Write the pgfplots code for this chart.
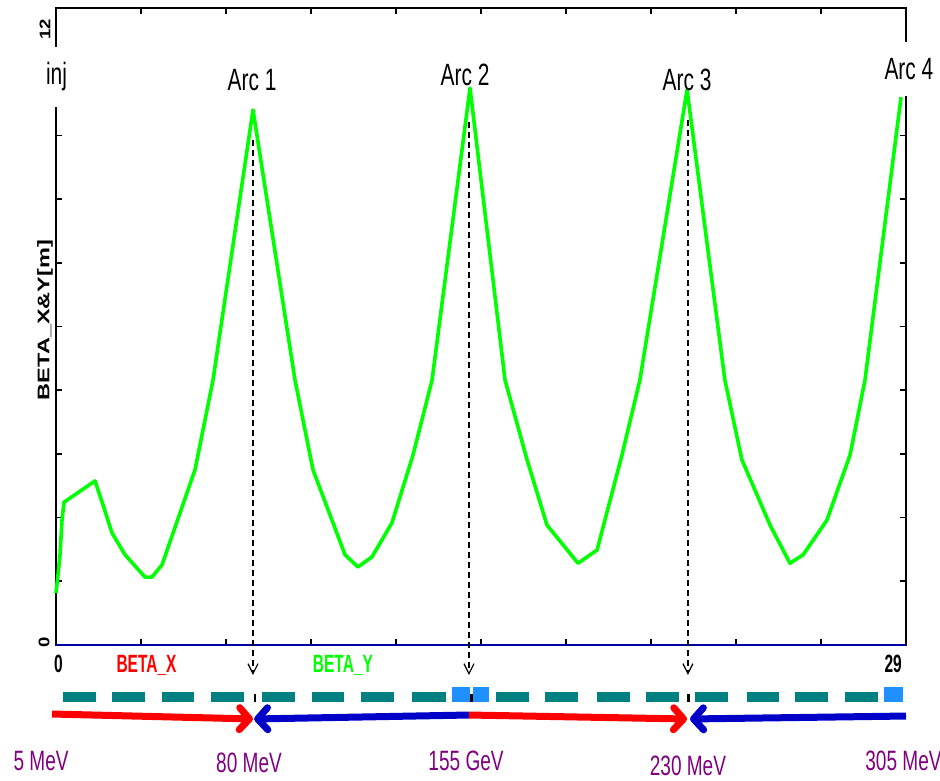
\documentclass[border=0pt]{standalone}
\usepackage{pgfplots}
\pgfplotsset{compat=1.18}
\usetikzlibrary{arrows.meta}
\usepackage{fontspec}
\setmainfont{Liberation Sans}
\newfontfamily\narrowfont[FakeStretch=0.68]{Liberation Sans}
\newfontfamily\boldnarrow[FakeStretch=0.62]{Liberation Sans}
\newfontfamily\widefont[FakeStretch=1.4]{Liberation Sans}
\newfontfamily\tickfont[FakeStretch=1.2]{Liberation Sans}
\definecolor{curvegreen}{RGB}{0,255,0}
\definecolor{elemteal}{RGB}{0,128,128}
\definecolor{elemblue}{RGB}{30,144,255}
\definecolor{arrowblue}{RGB}{0,0,200}
\definecolor{labpurple}{RGB}{128,0,128}
\definecolor{axisblue}{RGB}{0,0,160}
\begin{document}
\begin{tikzpicture}
\begin{axis}[
  scale only axis, width=425pt, height=318.5pt,
  xmin=0, xmax=29, ymin=0, ymax=12,
  xtick={0,2.9,5.8,8.7,11.6,14.5,17.4,20.3,23.2,26.1,29},
  ytick={0,1.2,2.4,3.6,4.8,6,7.2,8.4,9.6,10.8,12},
  xticklabel=\empty, yticklabel=\empty,
  tick align=inside, major tick length=3pt,
  tick style={black, line width=0.8pt},
  axis line style={line width=1pt},
  clip=false, unbounded coords=jump,
]
% beta curve
\addplot[curvegreen, line width=1.8pt, line join=round] coordinates {
 (0,0.98) (0.068,1.32) (0.136,1.70) (0.205,2.35) (0.273,2.69)
 (1.331,3.09) (1.604,2.64) (1.911,2.11) (2.354,1.70) (3.036,1.28)
 (3.275,1.28) (3.616,1.51) (4.742,3.30) (5.356,4.99) (6.721,10.08)
 (8.154,4.99) (8.768,3.30) (9.860,1.70) (10.30,1.47) (10.78,1.66)
 (11.46,2.30) (12.18,3.58) (12.83,4.99) (14.125,10.49)
 (15.32,4.99) (16.07,3.49) (16.75,2.26) (17.81,1.54) (18.46,1.79)
 (19.31,3.58) (19.92,4.99) (21.53,10.46)
 (22.82,4.99) (23.40,3.49) (24.36,2.26) (25.04,1.54) (25.49,1.70)
 (26.30,2.35) (27.09,3.58) (27.60,4.99) (28.83,10.32)
};
% beta_x line at zero
\addplot[axisblue, line width=1pt] coordinates {(0,0) (29,0)};
% dashed markers
\addplot[black, line width=0.6pt, dash pattern=on 3pt off 2pt, -{Straight Barb[length=5pt,width=5pt]}] coordinates {(6.72,9.51) (6.72,-0.565)};
\addplot[black, line width=0.6pt, dash pattern=on 3pt off 2pt, -{Straight Barb[length=5pt,width=5pt]}] coordinates {(14.09,9.85) (14.09,-0.565)};
\addplot[black, line width=0.6pt, dash pattern=on 3pt off 2pt, -{Straight Barb[length=5pt,width=5pt]}] coordinates {(21.56,9.89) (21.56,-0.565)};
% element bar
\addplot[elemteal, line width=5pt] coordinates {
 (0.239,-0.98) (1.365,-0.98) (1.365,nan)
 (1.911,-0.98) (3.036,-0.98) (3.036,nan)
 (3.616,-0.98) (4.708,-0.98) (4.708,nan)
 (5.288,-0.98) (6.414,-0.98) (6.414,nan)
 (7.028,-0.98) (8.154,-0.98) (8.154,nan)
 (8.734,-0.98) (9.826,-0.98) (9.826,nan)
 (10.406,-0.98) (11.532,-0.98) (11.532,nan)
 (12.146,-0.98) (13.306,-0.98) (13.306,nan)
 (15.012,-0.98) (16.138,-0.98) (16.138,nan)
 (16.684,-0.98) (17.809,-0.98) (17.809,nan)
 (18.458,-0.98) (19.584,-0.98) (19.584,nan)
 (20.129,-0.98) (21.255,-0.98) (21.255,nan)
 (21.801,-0.98) (22.927,-0.98) (22.927,nan)
 (23.575,-0.98) (24.667,-0.98) (24.667,nan)
 (25.213,-0.98) (26.339,-0.98) (26.339,nan)
 (26.919,-0.98) (28.045,-0.98)
};
\addplot[elemblue, line width=7.5pt] coordinates {
 (13.51,-0.932) (14.12,-0.932) (14.12,nan)
 (14.23,-0.932) (14.77,-0.932) (14.77,nan)
 (28.25,-0.932) (28.90,-0.932)
};
\addplot[black, line width=4pt] coordinates {
 (6.74,-1.0) (6.84,-1.0) (6.84,nan)
 (14.12,-1.0) (14.21,-1.0) (14.21,nan)
 (21.53,-1.0) (21.63,-1.0)
};
% energy arrows
\addplot[arrowblue, line width=3.5pt, {Straight Barb[length=5pt,width=11pt,round]}-] coordinates {(6.76,-1.394) (14.09,-1.319)};
\addplot[red, line width=3.5pt, -{Straight Barb[length=5pt,width=11pt,round]}] coordinates {(-0.136,-1.30) (6.72,-1.394)};
\addplot[red, line width=3.5pt, -{Straight Barb[length=5pt,width=11pt,round]}] coordinates {(14.09,-1.319) (21.53,-1.394)};
\addplot[arrowblue, line width=3.5pt, {Straight Barb[length=5pt,width=11pt,round]}-] coordinates {(21.63,-1.394) (29.0,-1.338)};
% labels
\node[font=\narrowfont\fontsize{15.4}{18}\selectfont] at (axis cs:6.687,10.64) {Arc 1};
\node[font=\narrowfont\fontsize{15.4}{18}\selectfont] at (axis cs:13.954,10.74) {Arc 2};
\node[font=\narrowfont\fontsize{15.4}{18}\selectfont] at (axis cs:21.53,10.64) {Arc 3};
\node[font=\narrowfont\fontsize{15.4}{18}\selectfont, fill=white, inner ysep=8pt] at (axis cs:29.10,10.85) {Arc 4};
\node[font=\narrowfont\fontsize{15.4}{18}\selectfont, fill=white, inner ysep=8pt] at (axis cs:0.017,10.70) {inj};
% axis numbers
\node[font=\boldnarrow\bfseries\fontsize{12.5}{14}\selectfont, anchor=base, inner sep=0pt] at (axis cs:0.085,-0.52) {0};
\node[font=\boldnarrow\bfseries\fontsize{12.5}{14}\selectfont, anchor=base, inner sep=0pt] at (axis cs:28.56,-0.52) {29};
\node[font=\boldnarrow\bfseries\fontsize{12.5}{14}\selectfont, anchor=base, inner sep=0pt, text=red] at (axis cs:3.088,-0.52) {BETA\_X};
\node[font=\boldnarrow\bfseries\fontsize{12.5}{14}\selectfont, anchor=base, inner sep=0pt, text=curvegreen] at (axis cs:9.79,-0.52) {BETA\_Y};
\node[font=\tickfont\bfseries\fontsize{7.7}{9}\selectfont, rotate=90, inner sep=0pt] at (axis cs:-0.375,11.60) {12};
\node[font=\tickfont\bfseries\fontsize{7.7}{9}\selectfont, rotate=90, inner sep=0pt] at (axis cs:-0.41,0.057) {0};
\node[font=\widefont\bfseries\fontsize{8.4}{10}\selectfont, rotate=90, inner sep=0pt] at (axis cs:-0.375,6.12) {BETA\_X\&Y[m]};
% energies
\node[font=\narrowfont\fontsize{14}{16}\selectfont, text=labpurple, anchor=base, inner sep=0pt] at (axis cs:-0.51,-2.355) {5 MeV};
\node[font=\narrowfont\fontsize{14}{16}\selectfont, text=labpurple, anchor=base, inner sep=0pt] at (axis cs:6.585,-2.41) {80 MeV};
\node[font=\narrowfont\fontsize{14}{16}\selectfont, text=labpurple, anchor=base, inner sep=0pt] at (axis cs:13.99,-2.355) {155 GeV};
\node[font=\narrowfont\fontsize{14}{16}\selectfont, text=labpurple, anchor=base, inner sep=0pt] at (axis cs:21.56,-2.449) {230 MeV};
\node[font=\narrowfont\fontsize{14}{16}\selectfont, text=labpurple, anchor=base west, inner sep=0pt] at (axis cs:27.60,-2.355) {305 MeV};
\end{axis}
\pgfresetboundingbox
\path[use as bounding box] (-28pt,-67.5pt) rectangle (442pt,322.5pt);
\end{tikzpicture}
\end{document}
